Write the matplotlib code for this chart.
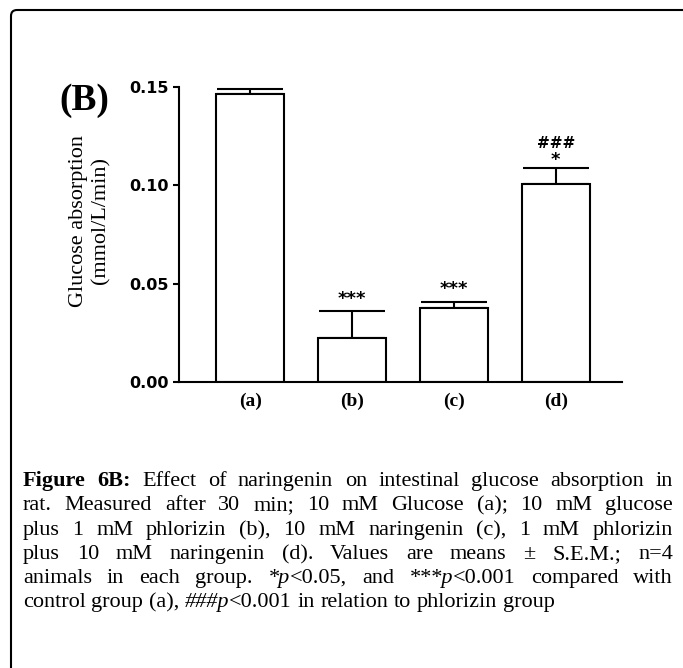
import numpy as np
import matplotlib
matplotlib.use("Agg")
import matplotlib.pyplot as plt
from matplotlib.patches import FancyBboxPatch
from matplotlib.transforms import IdentityTransform

# data
groups = ["(a)", "(b)", "(c)", "(d)"]
means = [0.1464, 0.0224, 0.0376, 0.1007]
sem = [0.0026, 0.0137, 0.0031, 0.0081]
stars = ["", "***", "***", "*"]
hashes = ["", "", "", "###"]
yticks = [0.00, 0.05, 0.10, 0.15]

caption = [
    [("Figure 6B:", "b"), (" Effect of naringenin on intestinal glucose absorption in", "n")],
    [("rat. Measured after 30 min; 10 mM Glucose (a); 10 mM glucose", "n")],
    [("plus 1 mM phlorizin (b), 10 mM naringenin (c), 1 mM phlorizin", "n")],
    [("plus 10 mM naringenin (d). Values are means \u00b1 S.E.M.; n=4", "n")],
    [("animals in each group. ", "n"), ("*p", "i"), ("<0.05, and ", "n"),
     ("***p", "i"), ("<0.001 compared with", "n")],
    [("control group (a), ", "n"), ("###p", "i"), ("<0.001 in relation to phlorizin group", "n")],
]

W, H = 683, 668
fig = plt.figure(figsize=(W / 100, H / 100), dpi=100)

# frame round the figure (left and top edge only show)
frame = FancyBboxPatch((11, -60), 800, 658 + 60, boxstyle="round,pad=0,rounding_size=6",
                       transform=IdentityTransform(), fill=False, lw=1.5, ec="black")
fig.patches.append(frame)

ax = fig.add_axes([179 / W, 1 - 382 / H, (622 - 179) / W, (382 - 87) / H])
x = np.arange(len(groups))
ax.errorbar(x, means, yerr=[np.zeros(len(sem)), sem], fmt="none", ecolor="black",
            elinewidth=1.5, capsize=24, capthick=1.5, zorder=1)
ax.bar(x, means, width=0.667, color="white", edgecolor="black", linewidth=1.5, zorder=2)

for i in range(len(groups)):
    top = means[i] + sem[i]
    if stars[i]:
        off = 9 if i < 3 else 6
        ax.annotate(stars[i], (x[i], top), xytext=(0, off), textcoords="offset points",
                    ha="center", va="center", fontsize=13, fontweight="bold",
                    family="DejaVu Sans")
    if hashes[i]:
        ax.annotate(hashes[i], (x[i], top), xytext=(0, 18), textcoords="offset points",
                    ha="center", va="center", fontsize=11, fontweight="bold",
                    family="DejaVu Sans")

ax.set_xlim(-0.70, 3.65)
ax.set_ylim(0, 0.15)
ax.set_yticks(yticks)
ax.set_yticklabels(["%.2f" % t for t in yticks], fontsize=11.5, fontweight="bold",
                   family="DejaVu Sans")
ax.set_xticks(x)
ax.set_xticklabels(groups, fontsize=14, fontweight="bold", family="Liberation Serif")
ax.tick_params(axis="x", length=0, pad=8)
ax.tick_params(axis="y", length=4.5, width=1.5, pad=3)
for s in ["top", "right"]:
    ax.spines[s].set_visible(False)
for s in ["left", "bottom"]:
    ax.spines[s].set_linewidth(1.5)

fig.text(90 / W, 1 - 221 / H, "Glucose absorption\n(mmol/L/min)", rotation=90,
         ha="center", va="center", fontsize=16, family="Liberation Serif", linespacing=1.25)
fig.text(84 / W, 1 - 101 / H, "(B)", ha="center", va="center", fontsize=27,
         fontweight="bold", family="Liberation Serif")

# caption, justified line by line
renderer = fig.canvas.get_renderer()
fs = 16
x0, x1 = 23, 673
baselines = [486, 510, 535, 559, 583, 607]
styles = {"n": dict(), "b": dict(fontweight="bold"), "i": dict(style="italic")}


def split_words(runs):
    words, cur = [], []
    for text, st in runs:
        parts = text.split(" ")
        for k, p in enumerate(parts):
            if k > 0 and cur:
                words.append(cur)
                cur = []
            if p:
                cur.append((p, st))
    if cur:
        words.append(cur)
    return words


for li, runs in enumerate(caption):
    words = split_words(runs)
    y = 1 - baselines[li] / H
    items = []
    total = 0
    for w in words:
        pieces = []
        wlen = 0
        for text, st in w:
            t = fig.text(0, y, text, fontsize=fs, family="Liberation Serif",
                         va="baseline", ha="left", **styles[st])
            wd = t.get_window_extent(renderer).width
            pieces.append((t, wd))
            wlen += wd
        items.append(pieces)
        total += wlen
    if li < len(caption) - 1:
        gap = (x1 - x0 - total) / (len(words) - 1)
    else:
        gap = 0.25 * fs * 100 / 72
    cx = x0
    for pieces in items:
        for t, wd in pieces:
            t.set_x(cx / W)
            cx += wd
        cx += gap

fig.savefig("out.png", dpi=100)
